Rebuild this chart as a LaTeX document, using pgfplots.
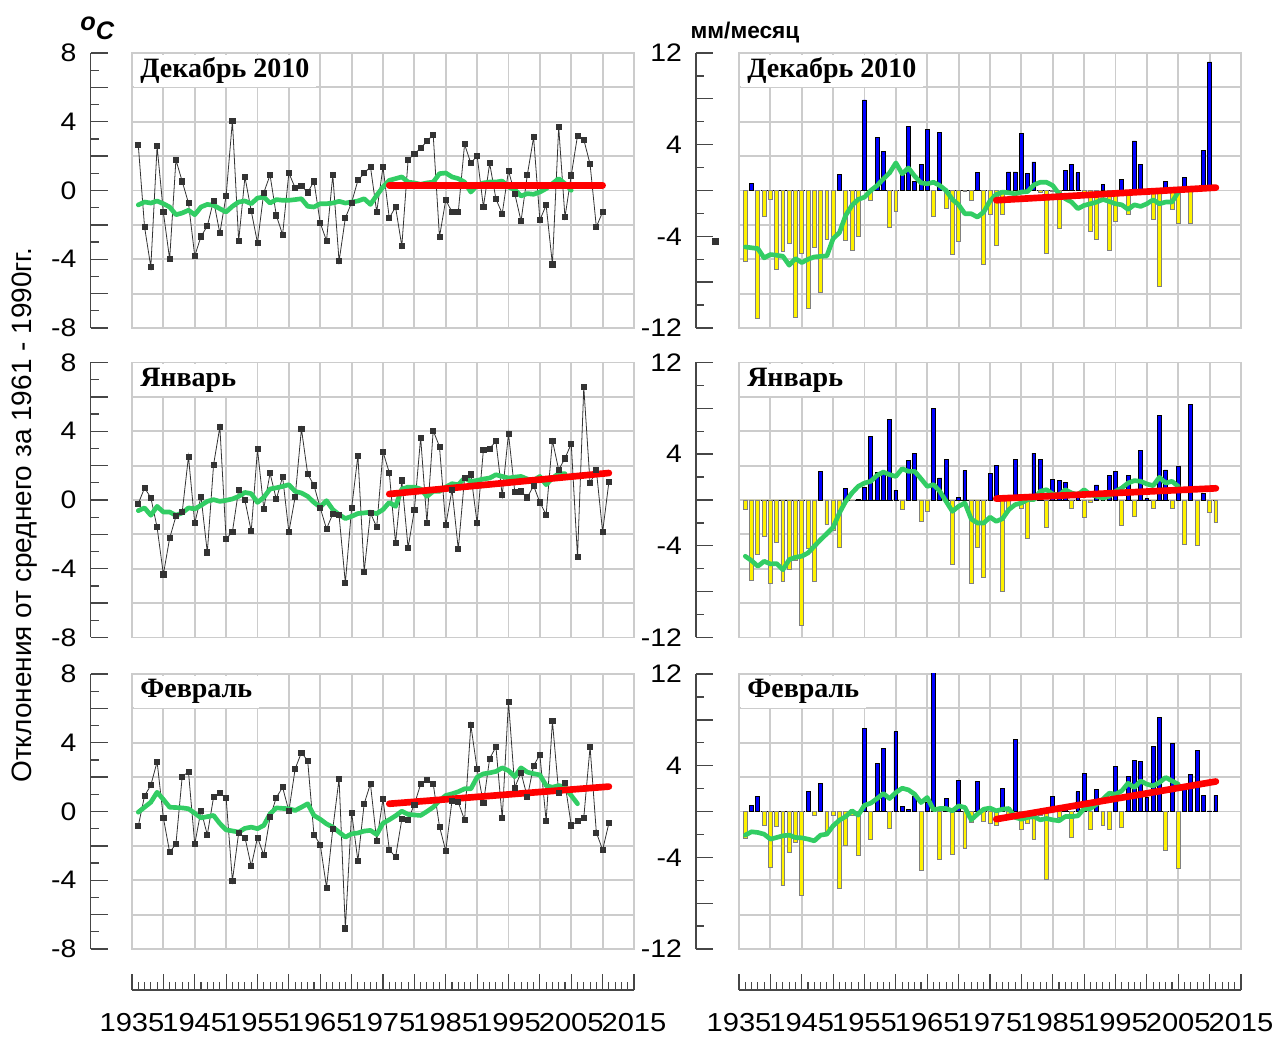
\documentclass[border=0pt]{standalone}
\usepackage{fontspec}
\setmainfont{Liberation Sans}
\newfontfamily\titlefont{Liberation Serif}
\newfontfamily\widesans[FakeStretch=1.12]{Liberation Sans}
\usepackage{pgfplots}
\pgfplotsset{compat=1.18}
\usepackage{pgfplotstable}

\definecolor{gr}{RGB}{50,205,100}
\definecolor{gridc}{RGB}{204,204,204}
\definecolor{axc}{RGB}{70,70,70}

% ---------------- temperature (deg C) ----------------
\pgfplotstableread{
x y
1936 2.65
1937 -2.12
1938 -4.45
1939 2.57
1940 -1.27
1941 -4.00
1942 1.78
1943 0.53
1944 -0.73
1945 -3.81
1946 -2.67
1947 -2.07
1948 -0.59
1949 -2.49
1950 -0.30
1951 4.04
1952 -2.94
1953 0.79
1954 -1.19
1955 -3.05
1956 -0.13
1957 0.90
1958 -1.45
1959 -2.57
1960 1.02
1961 0.15
1962 0.28
1963 -0.11
1964 0.53
1965 -1.89
1966 -2.92
1967 0.90
1968 -4.12
1969 -1.60
1970 -0.70
1971 0.59
1972 1.00
1973 1.39
1974 -1.25
1975 1.37
1976 -1.60
1977 -0.96
1978 -3.23
1979 1.79
1980 2.12
1981 2.47
1982 2.86
1983 3.25
1984 -2.70
1985 -0.55
1986 -1.25
1987 -1.25
1988 2.69
1989 1.58
1990 2.03
1991 -0.96
1992 1.58
1993 -0.49
1994 -1.35
1995 1.15
1996 -0.18
1997 -1.78
1998 0.90
1999 3.10
2000 -1.72
2001 -0.85
2002 -4.30
2003 3.70
2004 -1.56
2005 0.88
2006 3.19
2007 2.96
2008 1.54
2009 -2.12
2010 -1.25
}\decT
\pgfplotstableread{
x y
1936 -0.84
1937 -0.67
1938 -0.73
1939 -0.61
1940 -0.77
1941 -0.96
1942 -1.41
1943 -1.31
1944 -1.15
1945 -1.41
1946 -0.96
1947 -0.81
1948 -0.86
1949 -1.06
1950 -1.25
1951 -0.92
1952 -0.67
1953 -0.61
1954 -0.77
1955 -0.44
1956 -0.38
1957 -0.73
1958 -0.53
1959 -0.57
1960 -0.57
1961 -0.53
1962 -0.48
1963 -0.92
1964 -0.96
1965 -0.77
1966 -0.77
1967 -0.73
1968 -0.63
1969 -0.73
1970 -0.67
1971 -0.61
1972 -0.48
1973 -0.81
1974 -0.28
1975 0.20
1976 0.59
1977 0.69
1978 0.79
1979 0.49
1980 0.44
1981 0.36
1982 0.44
1983 0.49
1984 0.98
1985 1.02
1986 0.79
1987 0.69
1988 0.49
1989 -0.09
1990 0.30
1991 0.44
1992 0.49
1993 0.49
1994 0.55
1995 0.20
1996 0.05
1997 -0.32
1998 -0.18
1999 -0.22
2000 -0.09
2001 0.11
2002 0.40
2003 0.69
2004 0.40
2005 0.01
}\decTs
\pgfplotstableread{
x y
1936 -0.21
1937 0.70
1938 0.14
1939 -1.59
1940 -4.33
1941 -2.22
1942 -0.95
1943 -0.71
1944 2.53
1945 -1.35
1946 0.19
1947 -3.05
1948 2.05
1949 4.25
1950 -2.26
1951 -1.86
1952 0.60
1953 -0.02
1954 -1.82
1955 2.96
1956 -0.50
1957 1.55
1958 0.04
1959 1.35
1960 -1.86
1961 0.17
1962 4.14
1963 1.51
1964 0.85
1965 -0.46
1966 -1.68
1967 -0.81
1968 -0.89
1969 -4.83
1970 -0.48
1971 2.59
1972 -4.17
1973 -0.75
1974 -1.58
1975 2.80
1976 1.60
1977 -2.51
1978 1.14
1979 -2.78
1980 -0.58
1981 3.63
1982 -1.31
1983 4.04
1984 3.11
1985 -1.47
1986 0.60
1987 -2.86
1988 1.29
1989 1.49
1990 -1.35
1991 2.92
1992 3.00
1993 3.42
1994 0.27
1995 3.86
1996 0.48
1997 0.50
1998 0.15
1999 0.83
2000 -0.14
2001 -0.85
2002 3.46
2003 1.76
2004 2.42
2005 3.27
2006 -3.30
2007 6.57
2008 0.97
2009 1.74
2010 -1.86
2011 1.04
}\janT
\pgfplotstableread{
x y
1936 -0.62
1937 -0.46
1938 -0.89
1939 -0.37
1940 -0.70
1941 -0.70
1942 -0.89
1943 -0.75
1944 -0.46
1945 -0.52
1946 -0.31
1947 -0.08
1948 0.02
1949 -0.08
1950 -0.02
1951 0.06
1952 0.21
1953 0.44
1954 0.37
1955 -0.14
1956 0.15
1957 0.64
1958 0.71
1959 0.79
1960 0.89
1961 0.50
1962 0.41
1963 0.21
1964 -0.14
1965 -0.41
1966 -0.04
1967 -0.56
1968 -0.85
1969 -1.08
1970 -0.95
1971 -0.79
1972 -0.75
1973 -0.71
1974 -0.79
1975 -0.56
1976 -0.14
1977 -0.37
1978 0.64
1979 0.75
1980 0.75
1981 0.64
1982 0.21
1983 0.50
1984 0.50
1985 0.75
1986 0.95
1987 0.89
1988 1.28
1989 1.08
1990 1.14
1991 1.22
1992 1.28
1993 1.47
1994 1.37
1995 1.28
1996 1.33
1997 1.37
1998 1.22
1999 1.14
2000 1.37
2001 0.89
2002 1.28
2003 1.53
2004 1.53
}\janTs
\pgfplotstableread{
x y
1936 -0.85
1937 0.91
1938 1.53
1939 2.89
1940 -0.37
1941 -2.36
1942 -1.90
1943 2.03
1944 2.31
1945 -1.90
1946 0.06
1947 -1.36
1948 0.83
1949 1.07
1950 0.78
1951 -4.03
1952 -1.24
1953 -1.51
1954 -3.18
1955 -1.51
1956 -2.54
1957 -0.33
1958 0.81
1959 1.41
1960 0.02
1961 2.48
1962 3.43
1963 2.95
1964 -1.36
1965 -1.92
1966 -4.42
1967 -1.01
1968 1.90
1969 -6.80
1970 -0.06
1971 -2.87
1972 0.45
1973 1.61
1974 -1.72
1975 0.74
1976 -2.21
1977 -2.66
1978 -0.45
1979 -0.48
1980 0.41
1981 1.59
1982 1.84
1983 1.61
1984 -0.87
1985 -2.29
1986 0.64
1987 0.54
1988 -0.50
1989 5.02
1990 2.46
1991 0.48
1992 3.08
1993 3.76
1994 -0.39
1995 6.40
1996 1.40
1997 2.27
1998 0.83
1999 2.66
2000 3.31
2001 -0.56
2002 5.25
2003 1.10
2004 1.65
2005 -0.81
2006 -0.56
2007 -0.35
2008 3.76
2009 -1.22
2010 -2.23
2011 -0.68
}\febT
\pgfplotstableread{
x y
1936 -0.04
1937 0.25
1938 0.54
1939 1.12
1940 0.70
1941 0.25
1942 0.23
1943 0.21
1944 0.16
1945 -0.10
1946 -0.37
1947 -0.30
1948 -0.23
1949 -0.70
1950 -1.07
1951 -1.13
1952 -1.20
1953 -0.98
1954 -0.91
1955 -1.00
1956 -0.81
1957 -0.14
1958 0.21
1959 0.18
1960 0.16
1961 0.06
1962 0.25
1963 0.45
1964 -0.23
1965 -0.45
1966 -0.72
1967 -0.91
1968 -1.20
1969 -1.49
1970 -1.30
1971 -1.25
1972 -1.14
1973 -1.10
1974 -1.34
1975 -0.68
1976 -0.48
1977 -0.25
1978 0.02
1979 -0.17
1980 -0.20
1981 -0.23
1982 0.00
1983 0.25
1984 0.64
1985 0.93
1986 1.03
1987 1.15
1988 1.32
1989 1.32
1990 2.00
1991 2.19
1992 2.25
1993 2.33
1994 2.54
1995 2.38
1996 2.03
1997 2.54
1998 2.29
1999 2.20
2000 2.13
2001 1.51
2002 1.41
2003 1.51
2004 1.41
2005 0.93
2006 0.45
}\febTs

% ---------------- precipitation (mm/month) ----------------
\pgfplotstableread{
x y
1936 -6.17
1937 0.64
1938 -11.16
1939 -2.26
1940 -0.78
1941 -6.87
1942 -5.28
1943 -4.58
1944 -11.07
1945 -5.51
1946 -10.32
1947 -5.00
1948 -8.93
1949 -4.26
1950 -4.00
1951 1.42
1952 -4.35
1953 -5.25
1954 -4.00
1955 7.90
1956 -0.87
1957 4.60
1958 3.40
1959 -3.20
1960 -1.85
1961 1.60
1962 5.59
1963 0.81
1964 2.25
1965 5.30
1966 -2.26
1967 5.10
1968 -1.60
1969 -5.57
1970 -4.45
1971 -0.10
1972 -0.87
1973 1.60
1974 -6.45
1975 -2.10
1976 -4.80
1977 -2.09
1978 1.62
1979 1.62
1980 5.01
1981 1.51
1982 2.49
1983 -0.20
1984 -5.48
1985 -0.10
1986 -3.28
1987 1.71
1988 2.26
1989 1.54
1990 -0.20
1991 -3.57
1992 -4.26
1993 0.49
1994 -5.19
1995 -2.67
1996 0.93
1997 -2.09
1998 4.32
1999 2.26
2000 -0.10
2001 -2.52
2002 -8.35
2003 0.81
2004 -1.65
2005 -2.90
2006 1.10
2007 -2.90
2008 0.10
2009 3.51
2010 11.22
}\decP
\pgfplotstableread{
x y
1936 -4.93
1937 -5.00
1938 -5.07
1939 -5.88
1940 -5.59
1941 -5.65
1942 -5.74
1943 -6.52
1944 -5.94
1945 -6.29
1946 -6.00
1947 -5.80
1948 -5.75
1949 -5.71
1950 -4.20
1951 -3.68
1952 -2.17
1953 -1.30
1954 -0.78
1955 -0.58
1956 0.00
1957 0.43
1958 1.00
1959 1.54
1960 2.41
1961 1.45
1962 1.97
1963 1.25
1964 0.67
1965 0.58
1966 0.72
1967 0.43
1968 0.00
1969 -0.78
1970 -1.25
1971 -2.03
1972 -2.03
1973 -2.32
1974 -1.88
1975 -0.90
1976 -0.35
1977 -0.14
1978 -0.20
1979 -0.29
1980 -0.14
1981 -0.09
1982 0.49
1983 0.72
1984 0.72
1985 0.43
1986 -0.29
1987 -0.72
1988 -1.01
1989 -1.59
1990 -1.30
1991 -1.16
1992 -1.01
1993 -0.78
1994 -0.96
1995 -1.16
1996 -1.25
1997 -1.65
1998 -1.25
1999 -1.39
2000 -1.16
2001 -0.81
2002 -1.16
2003 -1.01
2004 -1.01
2005 -0.14
}\decPs
\pgfplotstableread{
x y
1936 -0.84
1937 -7.00
1938 -4.77
1939 -3.17
1940 -7.24
1941 -3.66
1942 -7.09
1943 -6.08
1944 -5.29
1945 -10.96
1946 -4.24
1947 -7.09
1948 2.50
1949 -2.15
1950 -2.65
1951 -4.10
1952 0.99
1953 -0.05
1954 0.05
1955 1.10
1956 5.55
1957 2.44
1958 2.27
1959 7.06
1960 0.84
1961 -0.84
1962 3.43
1963 4.04
1964 -1.86
1965 -0.99
1966 8.02
1967 1.92
1968 3.52
1969 -5.58
1970 0.23
1971 2.56
1972 -7.30
1973 -4.10
1974 -6.74
1975 2.35
1976 3.02
1977 -8.02
1978 -0.80
1979 3.52
1980 -0.76
1981 -3.31
1982 4.10
1983 3.52
1984 -2.38
1985 1.83
1986 1.69
1987 1.51
1988 -0.70
1989 0.30
1990 -1.48
1991 -0.17
1992 1.31
1993 0.10
1994 2.12
1995 2.53
1996 -2.18
1997 2.12
1998 -1.40
1999 4.33
2000 0.12
2001 -0.70
2002 7.41
2003 2.62
2004 -0.76
2005 2.91
2006 -3.90
2007 8.31
2008 -3.98
2009 0.60
2010 -1.05
2011 -1.95
}\janP
\pgfplotstableread{
x y
1936 -4.91
1937 -5.29
1938 -5.78
1939 -5.35
1940 -5.58
1941 -5.55
1942 -6.08
1943 -5.20
1944 -5.00
1945 -4.91
1946 -4.62
1947 -4.04
1948 -3.46
1949 -2.94
1950 -2.38
1951 -1.13
1952 -0.12
1953 0.61
1954 1.19
1955 1.48
1956 1.63
1957 2.15
1958 2.44
1959 2.21
1960 2.06
1961 2.73
1962 2.50
1963 2.50
1964 1.86
1965 1.19
1966 1.34
1967 0.76
1968 -0.12
1969 -0.99
1970 -0.55
1971 -0.26
1972 -1.66
1973 -2.01
1974 -2.01
1975 -1.50
1976 -1.86
1977 -1.63
1978 -0.84
1979 -0.41
1980 -0.26
1981 0.03
1982 0.03
1983 0.76
1984 0.90
1985 0.52
1986 0.41
1987 0.90
1988 0.61
1989 0.47
1990 0.90
1991 0.47
1992 0.32
1993 0.17
1994 0.32
1995 0.76
1996 1.05
1997 1.48
1998 1.69
1999 1.63
2000 1.40
2001 1.25
2002 1.98
2003 1.48
2004 1.63
2005 1.19
}\janPs
\pgfplotstableread{
x y
1936 -2.35
1937 0.49
1938 1.31
1939 -1.19
1940 -4.88
1941 -1.34
1942 -6.48
1943 -3.58
1944 -2.70
1945 -7.30
1946 1.72
1947 -0.38
1948 2.41
1949 -1.83
1950 -0.38
1951 -6.69
1952 -2.99
1953 -0.30
1954 -3.87
1955 7.24
1956 -2.41
1957 4.22
1958 5.52
1959 -1.48
1960 6.95
1961 0.41
1962 0.20
1963 1.31
1964 -5.17
1965 0.78
1966 12.60
1967 -4.22
1968 1.13
1969 -3.78
1970 2.73
1971 -3.20
1972 -0.96
1973 2.59
1974 -0.90
1975 -1.00
1976 -1.19
1977 2.00
1978 -0.30
1979 6.25
1980 -1.60
1981 -1.02
1982 -2.41
1983 -0.30
1984 -5.96
1985 1.31
1986 -0.52
1987 0.15
1988 -2.27
1989 1.72
1990 3.31
1991 -1.60
1992 1.95
1993 -1.19
1994 -1.60
1995 3.92
1996 -1.40
1997 3.02
1998 4.42
1999 4.33
2000 1.19
2001 5.64
2002 8.23
2003 -3.37
2004 5.90
2005 -4.97
2006 2.00
2007 3.20
2008 5.29
2009 1.40
2010 0.05
2011 1.40
}\febP
\pgfplotstableread{
x y
1936 -2.06
1937 -1.77
1938 -1.83
1939 -1.98
1940 -2.41
1941 -2.27
1942 -2.12
1943 -2.06
1944 -2.27
1945 -2.30
1946 -2.41
1947 -2.56
1948 -2.06
1949 -1.98
1950 -1.25
1951 -0.76
1952 -0.44
1953 0.06
1954 -0.32
1955 0.55
1956 0.73
1957 1.13
1958 1.57
1959 1.13
1960 1.66
1961 2.03
1962 1.89
1963 1.51
1964 0.78
1965 1.22
1966 0.15
1967 0.26
1968 0.26
1969 0.06
1970 0.49
1971 0.35
1972 -0.73
1973 -0.23
1974 0.20
1975 0.30
1976 0.06
1977 0.20
1978 0.26
1979 -0.52
1980 -0.67
1981 -0.52
1982 -0.44
1983 -0.73
1984 -0.61
1985 -0.73
1986 -0.81
1987 -0.44
1988 -0.44
1989 -0.38
1990 0.26
1991 0.26
1992 0.64
1993 1.08
1994 1.60
1995 1.51
1996 1.80
1997 2.47
1998 2.09
1999 2.67
2000 2.38
2001 2.24
2002 2.53
2003 2.97
2004 2.67
2005 2.38
}\febPs

\pgfplotsset{
  panel/.style={scale only axis, width=376.5pt, height=206.25pt, anchor=south west,
    xmin=1935, xmax=2015, xtick={1935,1940,...,2015}, xticklabels={}, yticklabels={},
    major tick length=0pt, grid=major, grid style={gridc, line width=1.4pt},
    axis line style={gridc, line width=1.4pt}},
  tpanel/.style={panel, ymin=-8, ymax=8, ytick={-8,-6,...,8}},
  ppanel/.style={panel, ymin=-12, ymax=12, ytick={-12,-9,...,12}},
  yax/.style={scale only axis, width=5pt, height=206.25pt, anchor=south west,
    xmin=0, xmax=1, hide x axis, axis y line*=left,
    axis line style={-, axc, line width=1pt}, tick style={axc, line width=1pt},
    tick align=inside, major tick length=12.75pt, minor tick length=6pt,
    minor y tick num=1,
    yticklabel style={font=\widesans\fontsize{19}{19}\selectfont, xshift=-7pt}},
  tyax/.style={yax, ymin=-8, ymax=8, ytick={-8,-6,...,8}, yticklabels={-8,,-4,,0,,4,,8}},
  pyax/.style={yax, ymin=-12, ymax=12, ytick={-12,-8,...,12}, yticklabels={-12,,-4,,4,,12}},
  xax/.style={scale only axis, width=376.5pt, height=5pt, anchor=south west,
    ymin=0, ymax=1, xmin=1935, xmax=2015, hide y axis, axis x line*=bottom,
    axis line style={-, axc, line width=1pt}, tick style={axc, line width=0.8pt},
    tick align=inside, xtick={1935,1940,...,2015},
    xticklabels={1935,,1945,,1955,,1965,,1975,,1985,,1995,,2005,,2015},
    minor x tick num=4, major tick length=12pt, minor tick length=6pt,
    xticklabel style={font=\widesans\fontsize{19.5}{19.5}\selectfont, yshift=-14pt}},
  temp/.style={black!80, line width=0.6pt, mark=square*, mark size=1.9pt,
    mark options={solid, fill=black!80}},
  smo/.style={gr, line width=3.5pt, line join=round, line cap=round},
  trend/.style={red, line width=5pt, line cap=round},
  pos/.style={ybar, bar shift=0pt, bar width=0.62, fill=blue, draw=black,
    line width=0.6pt, restrict y to domain=0:30},
  neg/.style={ybar, bar shift=0pt, bar width=0.62, fill=yellow, draw=gray,
    line width=0.6pt, restrict y to domain=-30:0},
  zl/.style={black, line width=0.5pt, dash pattern=on 2.2pt off 2.2pt},
}
\tikzset{
  ttl/.style={anchor=north west, fill=white, inner xsep=5pt, inner ysep=0pt,
    minimum height=24pt, font=\titlefont\bfseries\fontsize{21}{21}\selectfont,
    xshift=1pt, yshift=-1pt},
}

\begin{document}
\begin{tikzpicture}
\useasboundingbox (0,0) rectangle (955.5pt,777pt);

% ===== left column: temperature =====
\begin{axis}[tpanel, at={(99pt,531pt)}]
  \addplot[temp] table {\decT};
  \addplot[smo] table {\decTs};
  \addplot[trend] coordinates {(1976,0.30) (2010,0.30)};
  \node[ttl] at (rel axis cs:0,1) {Декабрь 2010};
\end{axis}
\begin{axis}[tyax, at={(67.875pt,531pt)}]
\end{axis}

\begin{axis}[tpanel, at={(99pt,298.875pt)}]
  \addplot[temp] table {\janT};
  \addplot[smo] table {\janTs};
  \addplot[trend] coordinates {(1976,0.35) (2011,1.57)};
  \node[ttl] at (rel axis cs:0,1) {Январь};
\end{axis}
\begin{axis}[tyax, at={(67.875pt,298.875pt)}]
\end{axis}

\begin{axis}[tpanel, at={(99pt,65.25pt)}]
  \addplot[temp] table {\febT};
  \addplot[smo] table {\febTs};
  \addplot[trend] coordinates {(1976,0.45) (2011,1.45)};
  \node[ttl] at (rel axis cs:0,1) {Февраль};
\end{axis}
\begin{axis}[tyax, at={(67.875pt,65.25pt)}]
\end{axis}

\begin{axis}[xax, at={(99pt,34.5pt)}]
\end{axis}

% ===== right column: precipitation =====
\begin{axis}[ppanel, at={(554.25pt,531pt)}, clip=false]
  \addplot[zl] coordinates {(1935.7,0) (2010.4,0)};
  \addplot[neg] table {\decP};
  \addplot[pos] table {\decP};
  \addplot[smo] table {\decPs};
  \addplot[trend] coordinates {(1976,-0.85) (2011,0.25)};
  \addplot[only marks, mark=square*, mark size=2.2pt, black!80] coordinates {(1931.2,-4.4)};
  \node[ttl] at (rel axis cs:0,1) {Декабрь 2010};
\end{axis}
\begin{axis}[pyax, at={(522pt,531pt)}]
\end{axis}

\begin{axis}[ppanel, at={(554.25pt,298.875pt)}]
  \addplot[zl] coordinates {(1935.7,0) (2011.4,0)};
  \addplot[neg] table {\janP};
  \addplot[pos] table {\janP};
  \addplot[smo] table {\janPs};
  \addplot[trend] coordinates {(1976,0.12) (2011,1.02)};
  \node[ttl] at (rel axis cs:0,1) {Январь};
\end{axis}
\begin{axis}[pyax, at={(522pt,298.875pt)}]
\end{axis}

\begin{axis}[ppanel, at={(554.25pt,65.25pt)}]
  \addplot[zl] coordinates {(1935.7,0) (2011.4,0)};
  \addplot[neg] table {\febP};
  \addplot[pos] table {\febP};
  \addplot[smo] table {\febPs};
  \addplot[trend] coordinates {(1976,-0.67) (2011,2.62)};
  \node[ttl] at (rel axis cs:0,1) {Февраль};
\end{axis}
\begin{axis}[pyax, at={(522pt,65.25pt)}]
\end{axis}

\begin{axis}[xax, at={(554.25pt,34.5pt)}]
\end{axis}

% ===== texts =====
\node[rotate=90, font=\fontsize{21}{21}\selectfont] at (18.75pt,390.75pt)
  {Отклонения от среднего за 1961 - 1990гг.};
\node[font=\bfseries\itshape\fontsize{19}{19}\selectfont] at (73pt,756pt)
  {\raisebox{7pt}{o}C};
\node[font=\bfseries\fontsize{17}{17}\selectfont] at (558.75pt,752.25pt) {мм/месяц};
\end{tikzpicture}
\end{document}
